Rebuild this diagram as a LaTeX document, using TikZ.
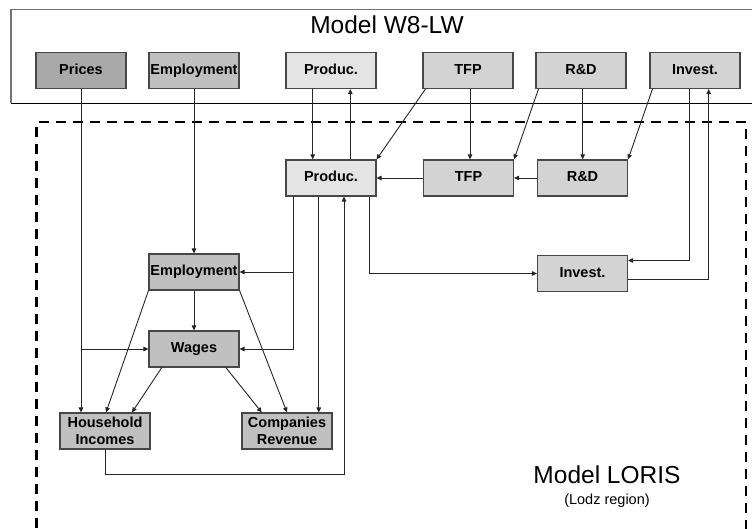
\documentclass[tikz,border=0pt]{standalone}
\usepackage{fontspec}
\setmainfont{Liberation Sans}
\usetikzlibrary{arrows.meta}
\definecolor{gdark}{HTML}{A9A9A9}
\definecolor{gmid}{HTML}{C0C0C0}
\definecolor{glight}{HTML}{D3D3D3}
\definecolor{gpale}{HTML}{E4E4E4}
\tikzset{
  box/.style={draw=black!72, line width=1.1pt, minimum width=90pt, minimum height=36pt,
    inner sep=0pt, align=center, font=\fontsize{14.5}{17}\selectfont\bfseries},
  onel/.style={text height=10.5pt, text depth=3pt},
  arr/.style={draw=black!85, line width=0.9pt, -{Triangle[length=5pt,width=4.5pt]}},
  dashbox/.style={line width=2.3pt, dash pattern=on 10pt off 7pt},
}
\begin{document}
\begin{tikzpicture}[x=1pt,y=-1pt]
\useasboundingbox (0,0) rectangle (752,529);
% outer frames
\draw[black!55, line width=1.2pt] (770,9.5) -- (11,9.5) -- (11,103.3);
\draw[black, line width=1pt] (11,103.3) -- (770,103.3);
\draw[dashbox] (36.5,545) -- (36.5,122.3) -- (746,122.3) -- (746,545);
\node[font=\fontsize{24.5}{28}\selectfont] (t1) at (387,25) {Model W8-LW};
\node[font=\fontsize{24.5}{28}\selectfont] (t2) at (607,475) {Model LORIS};
\node[font=\fontsize{14.5}{17}\selectfont] (t3) at (607,501) {(Lodz region)};
% top row
\node[box, onel, fill=gdark] (prices) at (81,70.5) {Prices};
\node[box, onel, fill=gmid] (empT) at (194,70.5) {Employment};
\node[box, onel, fill=gpale] (prodT) at (331,70.5) {Produc.};
\node[box, onel, fill=glight] (tfpT) at (468,70.5) {TFP};
\node[box, onel, fill=glight] (rdT) at (581,70.5) {R\&D};
\node[box, onel, fill=glight] (invT) at (695,70.5) {Invest.};
% middle row
\node[box, onel, fill=gpale] (prodM) at (331,178) {Produc.};
\node[box, onel, fill=glight] (tfpM) at (468.5,178) {TFP};
\node[box, onel, fill=glight] (rdM) at (582.5,178) {R\&D};
\node[box, onel, fill=glight] (invM) at (582.5,273.5) {Invest.};
\node[box, onel, fill=gmid] (empM) at (194,272) {Employment};
\node[box, onel, fill=gmid] (wages) at (194,349) {Wages};
\node[box, fill=gmid] (house) at (105,431) {Household\\Incomes};
\node[box, fill=gmid] (comp) at (287,431) {Companies\\Revenue};
% connectors
\draw[arr] (prices.south) -- (prices.south |- house.north);
\draw[arr] (prices.south |- wages.west) -- (wages.west);
\draw[arr] (empT.south) -- (empM.north);
\draw[arr] (empM.south) -- (wages.north);
\draw[arr] ([xshift=-18.3pt]prodT.south) -- ([xshift=-18.3pt]prodM.north);
\draw[arr] ([xshift=19.3pt]prodM.north) -- ([xshift=19.3pt]prodT.south);
\draw[arr] ([xshift=3pt]tfpT.south west) -- (prodM.north east);
\draw[arr] ([xshift=2pt]tfpT.south) -- ([xshift=2pt]tfpT.south |- tfpM.north);
\draw[arr] ([xshift=3pt]rdT.south west) -- (tfpM.north east);
\draw[arr] ([xshift=1.7pt]rdT.south) -- ([xshift=1.7pt]rdT.south |- rdM.north);
\draw[arr] ([xshift=3pt]invT.south west) -- (rdM.north east);
\draw[arr] ([xshift=-5.3pt]invT.south) |- ([yshift=13pt]invM.east);
\draw[arr] ([yshift=-5.5pt]invM.east) -| ([xshift=13.7pt]invT.south);
\draw[arr] (rdM.west) -- (tfpM.east);
\draw[arr] (tfpM.west) -- (prodM.east);
\draw[arr] ([xshift=8pt]prodM.south west) |- (empM.east);
\draw[arr] ([xshift=8pt]prodM.south west) |- (wages.east);
\draw[arr] ([xshift=33.3pt]prodM.south west) -- ([xshift=33.3pt]prodM.south west |- comp.north);
\draw[arr] (house.south) -- ++(0,25) -| ([xshift=13pt]prodM.south);
\draw[arr] ([xshift=38pt]prodM.south) |- (invM.west);
\draw[arr] (empM.south west) -- ([xshift=1pt]house.north);
\draw[arr] ([xshift=13.3pt]wages.south west) -- ([xshift=27pt]house.north);
\draw[arr] ([xshift=-13.7pt]wages.south east) -- ([xshift=20.3pt]comp.north west);
\draw[arr] (empM.south east) -- (comp.north);
\end{tikzpicture}
\end{document}
